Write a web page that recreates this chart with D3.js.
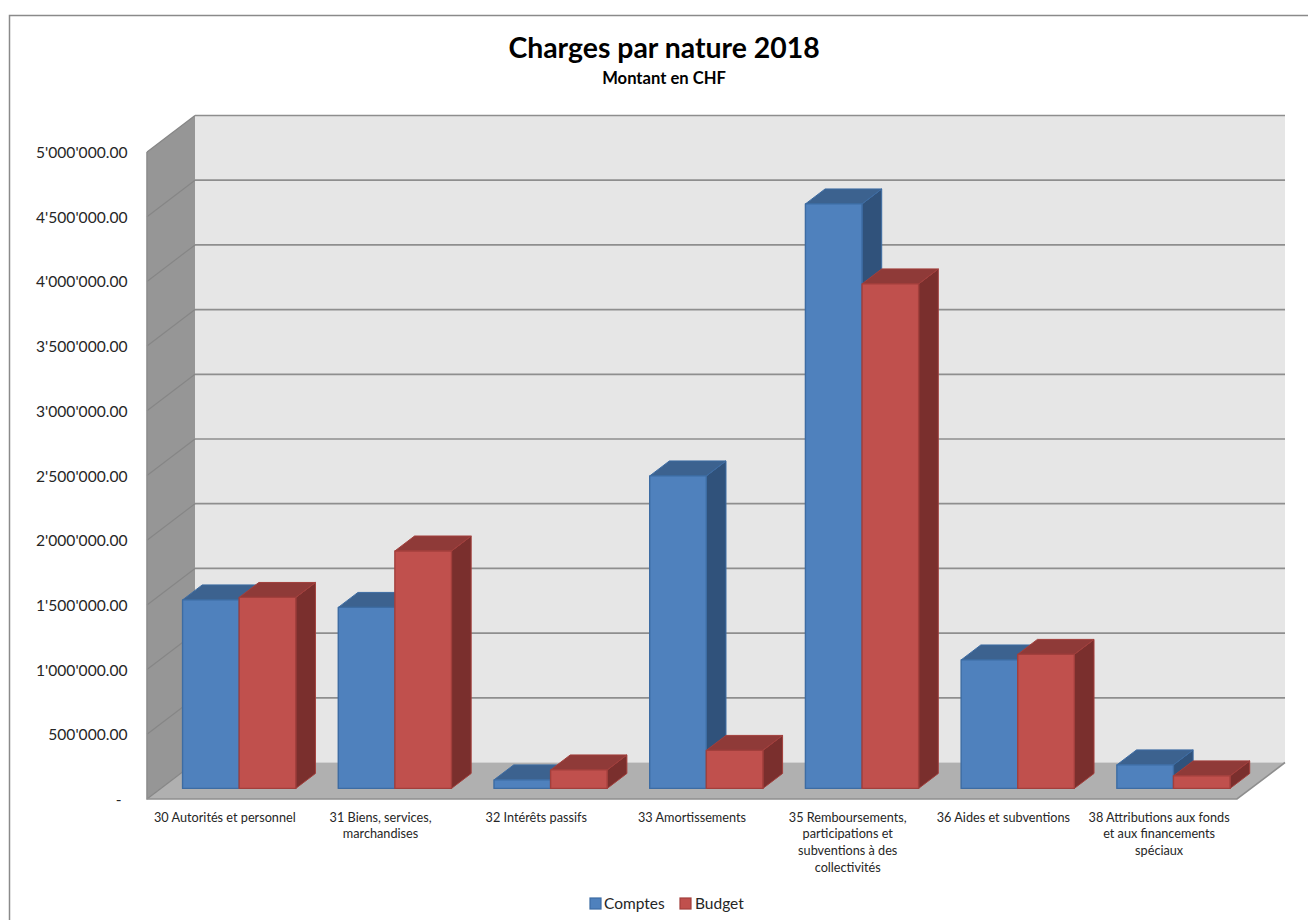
<!DOCTYPE html>
<html><head><meta charset="utf-8">
<script src="https://cdn.jsdelivr.net/npm/d3@7"></script>
<style>html,body{margin:0;background:#fff;overflow:hidden}svg{display:block}text{font-family:Lato,"Open Sans",sans-serif}</style>
</head><body><svg id="c" width="1308" height="920"></svg>
<script>
const categories=[["30 Autorités et personnel"],["31 Biens, services,","marchandises"],["32 Intérêts passifs"],["33 Amortissements"],["35 Remboursements,","participations et","subventions à des","collectivités"],["36 Aides et subventions"],["38 Attributions aux fonds","et aux financements","spéciaux"]];
const comptes=[1457000,1399000,66000,2415000,4517000,993000,182000];
const budget=[1476000,1835000,143000,294000,3899000,1036000,97000];
const yTicks=[0,500000,1000000,1500000,2000000,2500000,3000000,3500000,4000000,4500000,5000000];
const seriesNames=["Comptes","Budget"];
const title="Charges par nature 2018";
const subtitle="Montant en CHF";

const svg=d3.select("#c");
const loc=d3.formatLocale({decimal:".",thousands:"'",grouping:[3],currency:["",""]});
const fmt=loc.format(",.2f");
const x0=147,x1=1237,DX=48,DY=36.5;
const y=d3.scaleLinear().domain([0,5000000]).range([799,152]);
const band=d3.scaleBand().domain(d3.range(categories.length)).range([x0,x1]);
const inner=d3.scaleBand().domain([0,1]).range([band.bandwidth()*0.139,band.bandwidth()*0.866]);
const P=(x,v,d)=>[x+d*DX,y(v)-d*DY];
const poly=pts=>"M"+pts.map(p=>p.join(",")).join("L")+"Z";
const top5=y.domain()[1];

// frame
svg.append("path").attr("d","M9.5,924V15.5H1309").attr("fill","none").attr("stroke","#8a8a8a").attr("stroke-width",1.5);

// walls
svg.append("path").attr("d",poly([P(x0,0,0),P(x0,top5,0),P(x0,top5,1),P(x0,0,1)])).attr("fill","#969696");
svg.append("path").attr("d",poly([P(x0,0,1),P(x0,top5,1),P(x1,top5,1),P(x1,0,1)])).attr("fill","#e6e6e6");
svg.append("path").attr("d",poly([P(x0,0,0),P(x0,0,1),P(x1,0,1),P(x1,0,0)])).attr("fill","#b0b0b0");

// grid
yTicks.forEach(v=>{
  const a=P(x0,v,0),b=P(x0,v,1),c=P(x1,v,1);
  svg.append("path").attr("d",`M${a}L${b}`).attr("fill","none").attr("stroke","#868686").attr("stroke-width",1.2);
  if(v>0) svg.append("path").attr("d",`M${b}L${c}`).attr("fill","none").attr("stroke","#8e8e8e").attr("stroke-width",1.7);
});
svg.append("path").attr("d",`M${P(x0,top5,0)}L${P(x0,0,0)}L${P(x1,0,0)}L${P(x1,0,1)}`).attr("fill","none").attr("stroke","#8e8e8e").attr("stroke-width",1.6);

// bars
const palette=[{f:"#4f81bd",t:"#3c628f",s:"#30527b",e:"#3d6ca3"},{f:"#c0504d",t:"#8f3a38",s:"#7a2f2d",e:"#a23f3c"}];
const d0=0.29,d1=0.70;
categories.forEach((_,i)=>{
  [comptes,budget].forEach((vals,k)=>{
    const v=vals[i],c=palette[k];
    const xa=band(i)+inner(k),xb=xa+inner.bandwidth();
    const g=svg.append("g").attr("stroke",c.e).attr("stroke-width",1).attr("stroke-linejoin","round");
    g.append("path").attr("d",poly([P(xb,0,d0),P(xb,v,d0),P(xb,v,d1),P(xb,0,d1)])).attr("fill",c.s);
    g.append("path").attr("d",poly([P(xa,v,d0),P(xa,v,d1),P(xb,v,d1),P(xb,v,d0)])).attr("fill",c.t);
    g.append("path").attr("d",poly([P(xa,0,d0),P(xa,v,d0),P(xb,v,d0),P(xb,0,d0)])).attr("fill",c.f).attr("stroke-width",1.4);
  });
});

// y axis
const ax=svg.append("g").attr("transform","translate(127.5,0.5)")
 .call(d3.axisLeft(y).tickValues(yTicks).tickSize(0).tickPadding(0).tickFormat(v=>v===0?"-":fmt(v)));
ax.select(".domain").remove();
ax.selectAll("text").attr("font-size",15.6).attr("fill","#262626").attr("dx",v=>v===0?-6:0).style("font-family","Lato");

// category labels
categories.forEach((lines,i)=>{
  const t=svg.append("text").attr("text-anchor","middle").attr("font-size",12.7).attr("fill","#262626");
  lines.forEach((l,j)=>t.append("tspan").attr("x",band(i)+band.bandwidth()/2).attr("y",821.5+j*16.7).text(l));
});

// titles
svg.append("text").attr("x",664).attr("y",58).attr("text-anchor","middle").attr("font-size",28.4).attr("font-weight",700).attr("fill","#000").text(title);
svg.append("text").attr("x",664).attr("y",83.5).attr("text-anchor","middle").attr("font-size",16.6).attr("font-weight",700).attr("fill","#000").text(subtitle);

// legend
const legX=[590,680];
const legTextX=[604,695];
seriesNames.forEach((n,k)=>{
  svg.append("rect").attr("x",legX[k]).attr("y",898).attr("width",11).attr("height",11).attr("fill",palette[k].f).attr("stroke",palette[k].e).attr("stroke-width",1.2);
  svg.append("text").attr("x",legTextX[k]).attr("y",909).attr("font-size",15.5).attr("fill","#262626").text(n);
});
</script></body></html>
